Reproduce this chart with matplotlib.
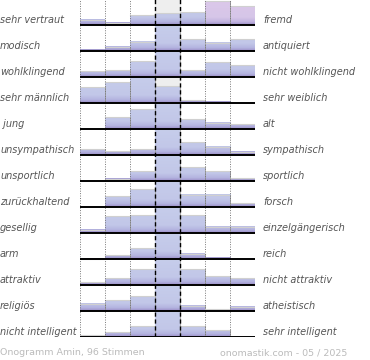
import matplotlib
matplotlib.use("Agg")
import matplotlib.pyplot as plt
import numpy as np
from matplotlib.colors import LinearSegmentedColormap
from matplotlib.transforms import blended_transform_factory

left_labels = ["sehr vertraut", "modisch", "wohlklingend", "sehr männlich", " jung",
               "unsympathisch", "unsportlich", "zurückhaltend", "gesellig", "arm",
               "attraktiv", "religiös", "nicht intelligent"]
right_labels = ["fremd", "antiquiert", "nicht wohlklingend", "sehr weiblich", "alt",
                "sympathisch", "sportlich", "forsch", "einzelgängerisch", "reich",
                "nicht attraktiv", "atheistisch", "sehr intelligent"]

# bar heights per row (7 columns), 26 = full row (center column is cut off)
heights = [
    [5.5, 2.5, 10, 12, 12.5, 24, 19],
    [1.5, 4.5, 9.5, 30, 12, 8.5, 12],
    [6, 7, 15.7, 30, 7, 15, 11.7],
    [15.7, 20.7, 30, 16.7, 2.7, 1.3, 0],
    [0, 11.7, 19.7, 30, 10, 6.3, 4.7],
    [5.7, 3.7, 5.7, 30, 12.7, 8.3, 3.3],
    [0, 2.3, 9.7, 30, 13.7, 9.7, 3],
    [0, 10.7, 17.7, 30, 12.3, 12.3, 3.7],
    [3.3, 17, 18, 30, 18, 6.3, 6.3],
    [0.4, 4, 10.7, 30, 5.3, 1.3, 0],
    [2.7, 7, 15.7, 30, 15.7, 8.7, 6.7],
    [7.3, 11, 14.7, 30, 5.3, 1.7, 4.3],
    [2, 4.7, 10.7, 30, 11, 6.7, 0],
]
highlight = [(0, 5), (0, 6)]

title_left = "Onogramm Amin, 96 Stimmen"
title_right = "onomastik.com - 05 / 2025"

blue = LinearSegmentedColormap.from_list(
    "b", [(0, "#9a8cc6"), (0.12, "#b4b4e0"), (0.3, "#c2c7e8"), (1, "#c6cdeb")])
pink = LinearSegmentedColormap.from_list(
    "p", [(0, "#9a8cc6"), (0.12, "#c2b4e0"), (0.3, "#d6c6e8"), (1, "#dcc8ea")])

fig = plt.figure(figsize=(3.7, 3.6), dpi=100)
ax = fig.add_axes([80 / 370, 1 - 337 / 360, 175 / 370, 338 / 360])
ax.axis("off")

# center column background
ax.axvspan(3, 4, color="#eeeeee", zorder=0)

nrows = len(heights)
for i in range(nrows):
    base = i + 1
    for j, v in enumerate(heights[i]):
        h = min(v / 26.0, 1.0)
        if h <= 0:
            continue
        cmap = pink if (i, j) in highlight else blue
        grad = np.linspace(h, 0, 50).reshape(-1, 1)
        ax.imshow(grad, cmap=cmap, vmin=0, vmax=1, aspect="auto",
                  extent=[j, j + 1, base, base - h], zorder=1, interpolation="bilinear")
        ax.plot([j, j + 1], [base - h, base - h], color="#d0d0d0", lw=0.8, zorder=2)
        ax.plot([j + 1, j + 1], [base - h, base], color="#9a9a9a", lw=0.6, zorder=2)
    ax.plot([0, 7], [base, base], color="black", lw=1.4, zorder=4, solid_capstyle="butt")

for x in [0, 1, 2, 5, 6, 7]:
    ax.axvline(x, color="#777777", lw=0.7, ls=(0, (1, 1.5)), zorder=3)
for x in [3, 4]:
    ax.axvline(x, color="black", lw=1.0, ls=(0, (3, 2)), zorder=3)

ax.set_xlim(0, 7)
ax.set_ylim(13, 0)

tr = blended_transform_factory(fig.transFigure, ax.transData)
for i in range(nrows):
    y = i + 1 - 0.2
    ax.text(0.0, y, left_labels[i], transform=tr, ha="left", va="center",
            fontsize=7, style="italic", color="#555555")
    ax.text(263 / 370, y, right_labels[i], transform=tr, ha="left", va="center",
            fontsize=7, style="italic", color="#555555")

fig.text(0.0, 1 - 352.5 / 360, title_left, ha="left", va="center",
         fontsize=6.8, color="#bbbbbb")
fig.text(347 / 370, 1 - 352.5 / 360, title_right, ha="right", va="center",
         fontsize=6.8, color="#bbbbbb")

fig.savefig("out.png", dpi=100)
